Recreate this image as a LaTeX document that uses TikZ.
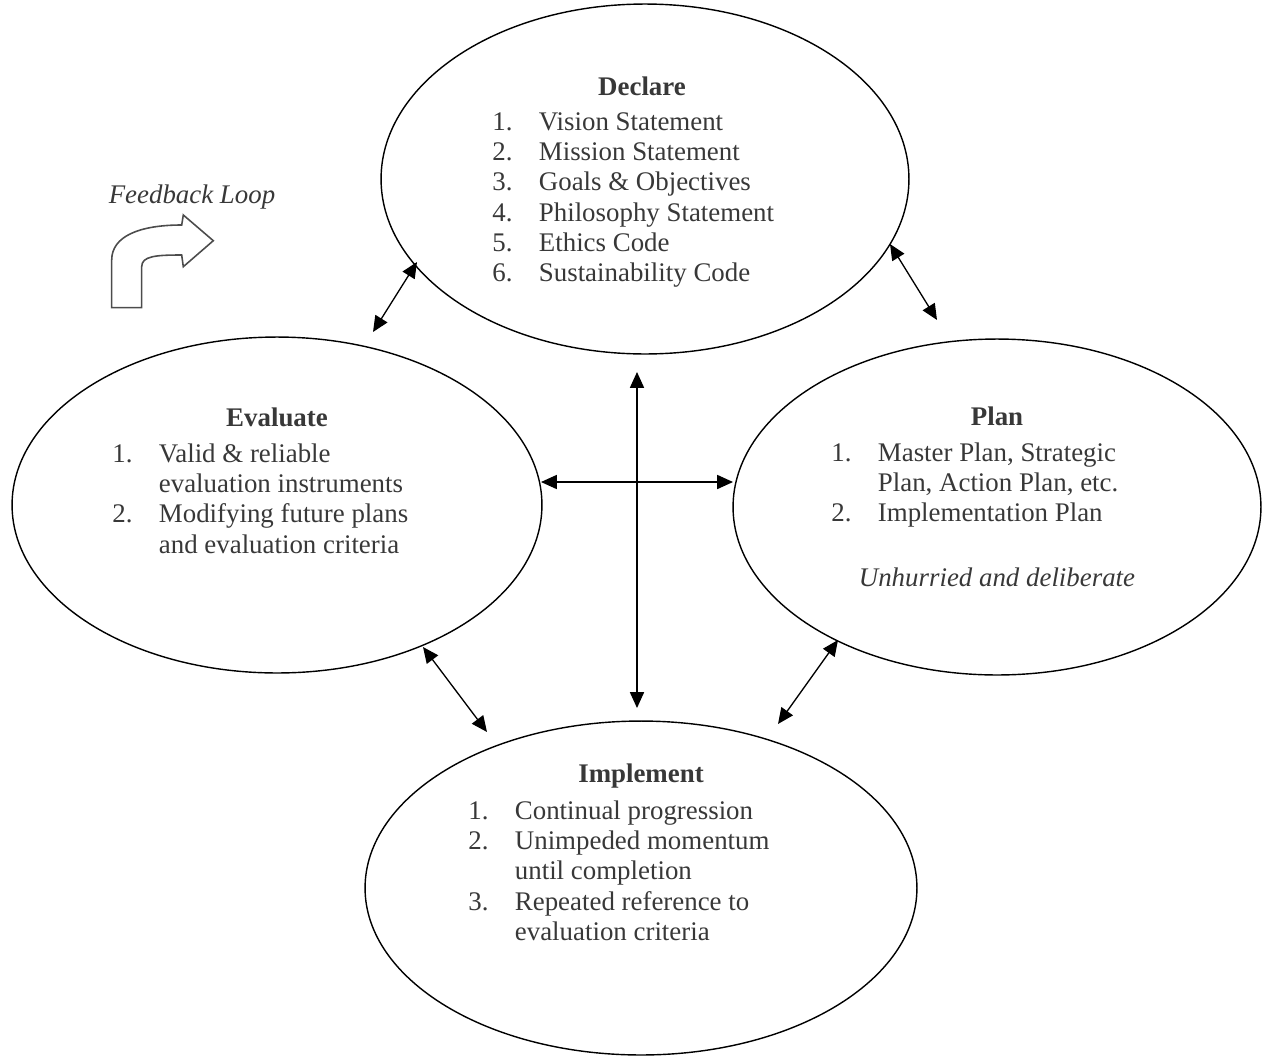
\documentclass[tikz,border=0pt]{standalone}
\usepackage{fontspec}
\setmainfont{Liberation Serif}
\usetikzlibrary{shapes.geometric, arrows.meta}

\begin{document}
\begin{tikzpicture}[x=0.02cm, y=-0.02cm,
  phase/.style={draw, ellipse, line width=0.8pt, inner sep=0pt},
  title/.style={font=\fontsize{15.3}{17.3}\selectfont\bfseries, text=black!78,
    anchor=base, inner sep=0pt},
  items/.style={font=\fontsize{15.3}{17.3}\selectfont, text=black!78,
    anchor=base west, inner sep=0pt},
  note/.style={font=\fontsize{15.3}{17.3}\selectfont\itshape, text=black!78,
    anchor=base, inner sep=0pt},
  link/.style={{Triangle[length=9pt,width=8pt]}-{Triangle[length=9pt,width=8pt]},
    line width=0.75pt}]
  \useasboundingbox (0,0) rectangle (1267,1055);
  % the four phases
  \node[phase, minimum width=10.56cm, minimum height=7cm] (declare) at (645,179) {};
  \node[phase, minimum width=10.6cm, minimum height=6.72cm] (evaluate) at (277,505) {};
  \node[phase, minimum width=10.56cm, minimum height=6.72cm] (plan) at (997,507) {};
  \node[phase, minimum width=11.04cm, minimum height=6.68cm] (implement) at (641,888) {};
  % declare
  \node[title] (declaret) at (642,95) {Declare};
  \node[items] (declarel) at (492,130) {\begin{tabular}[t]{@{}p{26.5pt}@{}l@{}}
    1. & Vision Statement\\ 2. & Mission Statement\\ 3. & Goals \& Objectives\\
    4. & Philosophy Statement\\ 5. & Ethics Code\\ 6. & Sustainability Code
  \end{tabular}};
  % evaluate
  \node[title] (evaluatet) at (277,426) {Evaluate};
  \node[items] (evaluatel) at (112,462) {\begin{tabular}[t]{@{}p{26.5pt}@{}l@{}}
    1. & Valid \& reliable\\ & evaluation instruments\\
    2. & Modifying future plans\\ & and evaluation criteria
  \end{tabular}};
  % plan
  \node[title] (plant) at (997,425) {Plan};
  \node[items] (planl) at (831,461) {\begin{tabular}[t]{@{}p{26.5pt}@{}l@{}}
    1. & Master Plan, Strategic\\ & Plan, Action Plan, etc.\\
    2. & Implementation Plan
  \end{tabular}};
  \node[note] (plann) at (997,586) {Unhurried and deliberate};
  % implement
  \node[title] (implementt) at (641,782) {Implement};
  \node[items] (implementl) at (468,819) {\begin{tabular}[t]{@{}p{26.5pt}@{}l@{}}
    1. & Continual progression\\ 2. & Unimpeded momentum\\ & until completion\\
    3. & Repeated reference to\\ & evaluation criteria
  \end{tabular}};
  % feedback loop
  \node[note] (loopt) at (192,203) {Feedback Loop};
  \draw[black!70, line width=0.9pt, line join=miter]
    (111.7,307.7) -- (111.7,260) .. controls (111.7,236) and (140,225) .. (181.7,225)
    -- (183.3,215) -- (213.3,240.7) -- (183.3,266.7) -- (181.7,255)
    .. controls (156,255) and (141.7,256) .. (141.7,266.7) -- (141.7,307.7) -- cycle;
  % connectors
  \coordinate (de) at (417,262);
  \coordinate (ed) at (373,332);
  \coordinate (dp) at (890,244);
  \coordinate (pd) at (937,320);
  \coordinate (ei) at (423,647);
  \coordinate (ie) at (487,732);
  \coordinate (pi) at (838,640);
  \coordinate (ip) at (778,724);
  \coordinate (top) at (637,372);
  \coordinate (bottom) at (637,708);
  \coordinate (left) at (541,482);
  \coordinate (right) at (733,482);
  \draw[link] (de) -- (ed);
  \draw[link] (dp) -- (pd);
  \draw[link] (ei) -- (ie);
  \draw[link] (pi) -- (ip);
  \draw[link] (top) -- (bottom);
  \draw[link] (left) -- (right);
\end{tikzpicture}
\end{document}
